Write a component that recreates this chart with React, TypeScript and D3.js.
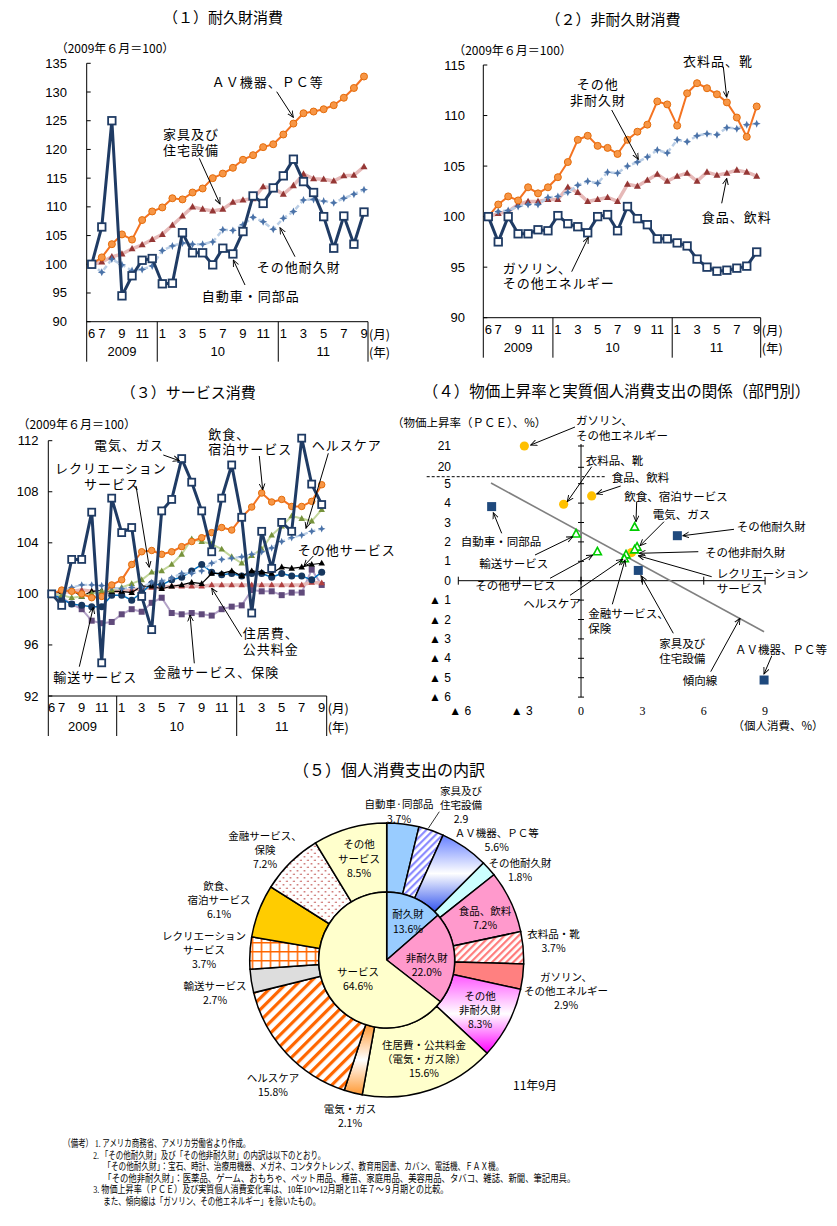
import React from 'react';
import * as d3 from 'd3';

// ---------------- shared time axis ----------------
const monthTickIdx = [0, 1, 3, 5, 7, 9, 11, 13, 15, 17, 19, 21, 23, 25, 27];
const monthTickLabels = ['6', '7', '9', '11', '1', '3', '5', '7', '9', '11', '1', '3', '5', '7', '9'];
const yearLabels = ['2009', '10', '11'];
const yearBreaks = [6.5, 18.5];

// ---------------- (1) durables ----------------
const avPc = [100, 101.2, 103.5, 105.2, 104.3, 107.7, 109.2, 109.9, 111.5, 111.3, 112.5, 113.2, 115.0, 115.8, 116.8, 118.2, 119.0, 120.4, 120.9, 122.6, 124.5, 126.3, 126.6, 127.0, 127.7, 129.0, 130.7, 132.7];
const furniture = [100, 100.4, 101.3, 101.8, 102.7, 103.4, 104.3, 105.2, 106.8, 108.4, 110.0, 109.6, 109.3, 109.6, 110.8, 111.2, 111.4, 113.5, 113.3, 112.2, 113.7, 115.7, 114.9, 114.8, 114.5, 115.4, 115.5, 117.0];
const otherDurables = [100, 98.6, 100.9, 99.9, 98.9, 99.1, 99.7, 102.4, 103.2, 103.7, 103.5, 103.5, 103.9, 106.0, 105.9, 106.9, 108.2, 107.4, 106.1, 108.0, 109.2, 111.2, 111.3, 111.0, 110.7, 111.5, 112.2, 113.0];
const autos = [100, 106.5, 125.0, 94.5, 98.0, 100.7, 101.0, 96.6, 96.7, 105.5, 102.0, 102.0, 99.9, 102.8, 101.8, 105.7, 111.9, 110.6, 113.3, 115.4, 118.3, 114.4, 112.5, 108.3, 102.8, 108.4, 103.5, 109.1];
const p1Ticks = [90, 95, 100, 105, 110, 115, 120, 125, 130, 135];

// ---------------- (2) non-durables ----------------
const clothing = [100, 101.2, 102.0, 101.6, 102.9, 102.3, 102.9, 103.9, 105.4, 107.6, 108.0, 107.0, 106.8, 106.2, 107.6, 108.4, 109.1, 111.4, 111.1, 109.0, 112.2, 113.2, 112.7, 112.1, 111.3, 109.8, 107.9, 110.9];
const otherNondurables = [100, 100.5, 100.6, 101.0, 101.2, 101.2, 101.9, 102.0, 102.4, 103.1, 103.5, 103.3, 104.4, 104.3, 105.0, 105.4, 105.9, 106.6, 106.3, 107.6, 107.4, 108.0, 108.2, 108.1, 108.8, 108.7, 109.1, 109.2];
const foodBev = [100, 100.3, 100.5, 101.2, 101.5, 101.5, 101.7, 101.7, 102.9, 102.4, 101.5, 101.7, 101.9, 101.5, 103.2, 103.0, 103.6, 104.2, 103.5, 104.0, 104.3, 103.5, 104.4, 104.1, 104.3, 104.6, 104.4, 104.0];
const gasoline = [100, 97.5, 100.0, 98.3, 98.3, 98.7, 98.6, 100.1, 99.3, 99.0, 98.4, 100.0, 100.2, 98.6, 101.0, 99.8, 99.2, 97.8, 97.8, 97.4, 97.1, 95.8, 95.0, 94.6, 94.7, 94.9, 95.1, 96.5];
const p2Ticks = [90, 95, 100, 105, 110, 115];

// ---------------- (3) services ----------------
const electricity = [100, 99.1, 102.7, 102.7, 106.4, 94.6, 107.5, 104.8, 105.2, 99.8, 97.2, 106.5, 107.4, 110.6, 108.75, 106.5, 103.3, 107.5, 110.1, 106.0, 98.5, 104.9, 102.0, 105.6, 104.9, 112.2, 108.6, 107.0];
const foodService = [100, 100.3, 100.2, 100.0, 99.7, 99.8, 100.7, 101.1, 102.3, 103.3, 103.4, 103.1, 103.3, 103.7, 104.1, 104.4, 104.8, 105.2, 105.0, 106.0, 106.8, 107.9, 107.2, 107.4, 106.85, 106.85, 107.25, 108.55];
const healthcare = [100, 100.2, 100.5, 100.7, 100.7, 100.65, 100.5, 100.4, 100.5, 100.5, 100.9, 101.0, 101.25, 101.6, 101.6, 101.8, 102.4, 102.7, 102.8, 102.9, 103.1, 103.3, 103.6, 104.1, 104.4, 104.6, 104.9, 105.1];
const recreation = [100, 99.9, 99.7, 99.8, 100.0, 100.2, 100.3, 100.5, 100.8, 101.1, 101.7, 101.8, 102.3, 103.1, 104.3, 104.1, 103.9, 103.5, 102.9, 102.4, 103.0, 103.5, 104.6, 105.3, 106.1, 105.9, 105.7, 106.6];
const otherServices = [100, 100.2, 100.3, 99.8, 100.2, 100.25, 100.2, 100.2, 100.1, 100.6, 100.6, 100.4, 100.6, 100.7, 100.9, 100.8, 101.6, 101.6, 101.8, 101.4, 101.8, 101.7, 101.6, 102.1, 102.0, 102.1, 102.3, 102.4];
const housing = [100, 100.1, 100.2, 100.3, 100.2, 100.1, 100.2, 100.2, 100.3, 100.4, 100.5, 100.5, 100.6, 100.6, 100.6, 100.6, 100.7, 100.7, 100.7, 100.7, 100.7, 100.7, 100.7, 100.7, 100.7, 100.7, 100.9, 100.85];
const transport = [100, 99.6, 99.2, 99.1, 99.0, 99.0, 99.9, 99.9, 99.5, 100.1, 100.8, 100.7, 101.1, 101.3, 101.8, 102.3, 101.7, 101.5, 101.6, 101.4, 101.6, 101.6, 101.3, 101.6, 101.4, 101.4, 101.1, 101.7];
const finance = [100, 99.7, 99.2, 98.8, 97.9, 97.7, 97.8, 98.4, 98.8, 98.6, 99.3, 99.7, 98.5, 98.4, 98.5, 98.4, 98.3, 98.8, 99.0, 99.1, 100.3, 100.2, 100.2, 99.9, 100.1, 100.1, 101.9, 100.7];
const p3Ticks = [92, 96, 100, 104, 108, 112];

// ---------------- (4) scatter ----------------
const scatterNames = ['ガソリン、その他エネルギー', '衣料品、靴', '食品、飲料', 'その他非耐久財', '飲食、宿泊サービス', '電気、ガス', 'レクリエーションサービス', 'ヘルスケア', '金融サービス、保険', '輸送サービス', 'その他サービス', '自動車・同部品', 'その他耐久財', '家具及び住宅設備', 'ＡＶ機器、ＰＣ等'];
const consumptionChg = [-2.77, -0.85, 0.52, 2.47, 2.62, 2.74, 2.62, 2.2, 2.12, -0.24, 0.8, -4.37, 4.71, 2.8, 8.95];
const pceChg = [21.0, 3.94, 4.37, 1.45, 2.75, 1.72, 1.58, 1.32, 1.12, 2.4, 1.48, 3.82, 2.32, 0.53, -5.12];
const sectorGroup = ['n', 'n', 'n', 'n', 's', 's', 's', 's', 's', 's', 's', 'd', 'd', 'd', 'd'];
const trendSlope = -0.618;
const trendIntercept = 2.9;
const trendRange = [-4.4, 8.95];
const p4YTicks = [21, 20, 5, 4, 3, 2, 1, 0, -1, -2, -3, -4, -5, -6];
const p4XTicks = [-6, -3, 0, 3, 6, 9];

// ---------------- (5) pie ----------------
const innerNames = ['耐久財', '非耐久財', 'サービス'];
const innerShares = [13.6, 22.0, 64.6];
const outerNames = ['自動車・同部品', '家具及び住宅設備', 'ＡＶ機器、ＰＣ等', 'その他耐久財', '食品、飲料', '衣料品・靴', 'ガソリン、その他エネルギー', 'その他非耐久財', '住居費・公共料金', '電気・ガス', 'ヘルスケア', '輸送サービス', 'レクリエーションサービス', '飲食、宿泊サービス', '金融サービス、保険', 'その他サービス'];
const outerShares = [3.7, 2.9, 5.6, 1.8, 7.2, 3.7, 2.9, 8.3, 15.6, 2.1, 15.8, 2.7, 3.7, 6.1, 7.2, 8.5];

const innerFills = ['#99ccff', '#ff99cc', '#ffffcc'];
const outerFills = ['#99ccff', 'url(#stBlue)', 'url(#gBlue)', '#ccffff', '#ff99cc', 'url(#stSalmon)', '#ff8080', 'url(#gMag)', '#ffffcc', 'url(#gOrange)', 'url(#stOrange)', '#dddddd', 'url(#grid)', '#ffcc00', 'url(#dots)', '#ffffcc'];

const NUM = "'Liberation Sans', Arial, sans-serif";
const SERIF = "'Liberation Serif', 'Noto Sans CJK JP', serif";

// ---------------- helpers ----------------
function Marker({ kind, cx, cy, size, fill, stroke, sw }: any) {
  if (kind === 'circle') return <circle cx={cx} cy={cy} r={size / 2} fill={fill} stroke={stroke} strokeWidth={sw} />;
  if (kind === 'square') return <rect x={cx - size / 2} y={cy - size / 2} width={size} height={size} fill={fill} stroke={stroke} strokeWidth={sw} />;
  if (kind === 'triangle') {
    const h = size * 0.9;
    return <path d={`M${cx},${cy - h * 0.6}L${cx + size / 2},${cy + h * 0.4}L${cx - size / 2},${cy + h * 0.4}Z`} fill={fill} stroke={stroke} strokeWidth={sw} />;
  }
  const r = size / 2, q = r * 0.3;
  return <path d={`M${cx},${cy - r}L${cx + q},${cy - q}L${cx + r},${cy}L${cx + q},${cy + q}L${cx},${cy + r}L${cx - q},${cy + q}L${cx - r},${cy}L${cx - q},${cy - q}Z`} fill={fill} stroke={stroke} strokeWidth={sw} />;
}

function T({ x, y, children, size = 13, anchor = 'start', ls = 0, family, weight }: any) {
  return (
    <text x={x} y={y} fontSize={size} textAnchor={anchor} dominantBaseline="central" letterSpacing={ls} fontFamily={family} fontWeight={weight}>
      {children}
    </text>
  );
}

function ML({ x, y, lines, lh = 15.5, size = 13, anchor = 'start', ls = 0, xs }: any) {
  return (
    <text y={y} fontSize={size} textAnchor={anchor} dominantBaseline="central" letterSpacing={ls}>
      {lines.map((s: string, i: number) => (
        <tspan key={i} x={xs ? xs[i] : x} dy={i === 0 ? 0 : lh} dominantBaseline="central">{s}</tspan>
      ))}
    </text>
  );
}

function Arrow({ a }: any) {
  return <line x1={a[0]} y1={a[1]} x2={a[2]} y2={a[3]} stroke="#000" strokeWidth={1} markerEnd="url(#arr)" />;
}

function LinePanel({ axisL, axisR, x0, x1, yDomain, yRange, yTicks, labelX, series }: any) {
  const x = d3.scaleLinear().domain([0, 27]).range([x0, x1]);
  const y = d3.scaleLinear().domain(yDomain).range(yRange);
  const bottom = y(yDomain[0]);
  const top = y(yDomain[1]);
  const line = d3.line<number>().x((_, i) => x(i)).y((d) => y(d));
  const bounds = [axisL, ...yearBreaks.map((b) => x(b)), axisR];
  const mY = bottom + 11.5;
  const yrY = bottom + 30;
  return (
    <g>
      <line x1={axisL} x2={axisL} y1={top} y2={bottom + 40} stroke="#000" />
      {yTicks.map((t: number) => (
        <g key={t}>
          <line x1={axisL} x2={axisL + 4} y1={y(t)} y2={y(t)} stroke="#000" />
          <T x={labelX} y={y(t)} anchor="end" size={13} family={NUM}>{t}</T>
        </g>
      ))}
      <line x1={axisL} x2={axisR} y1={bottom} y2={bottom} stroke="#000" />
      {bounds.slice(1).map((b, i) => (
        <line key={i} x1={b} x2={b} y1={bottom} y2={bottom + 40} stroke="#000" />
      ))}
      {monthTickIdx.map((m, i) => (
        <T key={i} x={x(m)} y={mY} anchor="middle" size={13} family={NUM}>{monthTickLabels[i]}</T>
      ))}
      {yearLabels.map((l, i) => (
        <T key={l} x={(bounds[i] + bounds[i + 1]) / 2} y={yrY} anchor="middle" size={13} family={NUM}>{l}</T>
      ))}
      <T x={axisR + 1} y={mY} size={12.5}>(月)</T>
      <T x={axisR + 1} y={yrY} size={12.5}>(年)</T>
      {series.map((s: any, k: number) => (
        <g key={k}>
          <path d={line(s.values) as string} fill="none" stroke={s.color} strokeWidth={s.width} strokeDasharray={s.dash} strokeLinejoin="round" />
          {s.values.map((v: number, i: number) => (
            <Marker key={i} kind={s.marker} cx={x(i)} cy={y(v)} size={s.mSize} fill={s.mFill} stroke={s.mStroke} sw={s.mSW} />
          ))}
        </g>
      ))}
    </g>
  );
}

const ORANGE = { color: '#f47321', width: 2, marker: 'circle', mSize: 7, mFill: '#f79646', mStroke: '#e46c0a', mSW: 1 };
const NAVY = { color: '#1f3b64', width: 3, marker: 'square', mSize: 7.5, mFill: '#fff', mStroke: '#1f3b64', mSW: 1.8 };
const PINKTRI = { color: '#e6b9b8', width: 3.5, marker: 'triangle', mSize: 7, mFill: '#953735', mStroke: 'none', mSW: 0 };
const BLUEDASH = { color: '#b9cde5', width: 2.5, dash: '5,3', marker: 'star', mSize: 8, mFill: '#4a72a8', mStroke: 'none', mSW: 0 };

const LS = 1;

function Panel1() {
  const series = [
    { values: furniture, ...PINKTRI },
    { values: otherDurables, ...BLUEDASH },
    { values: avPc, ...ORANGE },
    { values: autos, ...NAVY },
  ];
  return (
    <g>
      <T x={223} y={16} anchor="middle" size={15}>（１）耐久財消費</T>
      <T x={115} y={47} anchor="middle" size={12}>（2009年６月＝100）</T>
      <LinePanel axisL={86.7} axisR={368} x0={91.7} x1={364} yDomain={[90, 135]} yRange={[321.7, 63.3]} yTicks={p1Ticks} labelX={67} series={series} />
      <T x={211.7} y={81.7} ls={LS}>ＡＶ機器、ＰＣ等</T>
      <Arrow a={[276.7, 91.7, 293.3, 117.3]} />
      <ML x={163} y={133} lines={['家具及び', '住宅設備']} ls={LS} />
      <Arrow a={[199.3, 158.3, 220, 204]} />
      <T x={256.7} y={266.7} ls={LS}>その他耐久財</T>
      <Arrow a={[295, 256.7, 280, 227.7]} />
      <T x={201.7} y={295} ls={LS}>自動車・同部品</T>
      <Arrow a={[245, 285, 233.3, 260]} />
    </g>
  );
}

function Panel2() {
  const series = [
    { values: foodBev, ...PINKTRI },
    { values: otherNondurables, ...BLUEDASH },
    { values: clothing, ...ORANGE },
    { values: gasoline, ...NAVY },
  ];
  return (
    <g>
      <T x={613} y={18} anchor="middle" size={15}>（２）非耐久財消費</T>
      <T x={512.5} y={49} anchor="middle" size={12}>（2009年６月＝100）</T>
      <LinePanel axisL={483.3} axisR={760.7} x0={488.3} x1={756.7} yDomain={[90, 115]} yRange={[317.7, 65]} yTicks={p2Ticks} labelX={465} series={series} />
      <T x={683} y={60} ls={LS}>衣料品、靴</T>
      <Arrow a={[723.3, 66.7, 726.7, 97.3]} />
      <ML xs={[576.7, 570]} y={83} lines={['その他', '非耐久財']} ls={LS} lh={16} />
      <Arrow a={[611.7, 110, 638.3, 159.3]} />
      <T x={701.7} y={216.7} ls={LS}>食品、飲料</T>
      <Arrow a={[721.7, 203.3, 726.7, 178.3]} />
      <ML x={502.7} y={266.5} lines={['ガソリン、', 'その他エネルギー']} ls={LS} />
      <Arrow a={[571.7, 271.7, 588.3, 237.3]} />
    </g>
  );
}

function Panel3() {
  const series = [
    { values: finance, color: '#b3a2c7', width: 2, marker: 'square', mSize: 6, mFill: '#604a7b', mStroke: 'none', mSW: 0 },
    { values: housing, color: '#e6b9b8', width: 3.5, marker: 'triangle', mSize: 6.5, mFill: '#b04040', mStroke: 'none', mSW: 0 },
    { values: transport, color: '#0070c0', width: 1.5, marker: 'circle', mSize: 7, mFill: '#17375e', mStroke: 'none', mSW: 0 },
    { values: otherServices, color: '#000', width: 1.2, marker: 'triangle', mSize: 6.5, mFill: '#000', mStroke: 'none', mSW: 0 },
    { values: recreation, color: '#c3d69b', width: 2, marker: 'triangle', mSize: 6.5, mFill: '#77933c', mStroke: 'none', mSW: 0 },
    { values: healthcare, color: '#b9cde5', width: 2.2, dash: '5,3', marker: 'star', mSize: 7.5, mFill: '#4a72a8', mStroke: 'none', mSW: 0 },
    { values: foodService, color: '#f47321', width: 2, marker: 'circle', mSize: 6.5, mFill: '#f79646', mStroke: '#e46c0a', mSW: 1 },
    { values: electricity, ...NAVY, mSize: 7 },
  ];
  return (
    <g>
      <T x={188.3} y={391.7} anchor="middle" size={15}>（３）サービス消費</T>
      <T x={76.7} y={423.3} anchor="middle" size={12}>（2009年６月＝100）</T>
      <LinePanel axisL={48.3} axisR={326.7} x0={51.7} x1={321.7} yDomain={[92, 112]} yRange={[696, 440.7]} yTicks={p3Ticks} labelX={38.5} series={series} />
      <T x={94} y={444} ls={LS}>電気、ガス</T>
      <Arrow a={[163.3, 455, 179.3, 460.7]} />
      <ML xs={[55, 84]} y={467} lines={['レクリエーション', 'サービス']} ls={LS} lh={16} />
      <Arrow a={[136, 486, 149.3, 567.3]} />
      <ML x={208.3} y={432.5} lines={['飲食、', '宿泊サービス']} ls={LS} />
      <Arrow a={[259.3, 456, 262.7, 490]} />
      <T x={311.7} y={444} ls={LS}>ヘルスケア</T>
      <Arrow a={[328.3, 453.3, 306, 528.3]} />
      <T x={297.7} y={549} ls={LS}>その他サービス</T>
      <Arrow a={[313.3, 556, 304, 566]} />
      <ML x={242.7} y={632} lines={['住居費、', '公共料金']} ls={LS} lh={15.5} />
      <Arrow a={[241.7, 636.7, 211.7, 588.3]} />
      <T x={153.3} y={671.7} ls={LS}>金融サービス、保険</T>
      <Arrow a={[194.3, 663.3, 190, 615]} />
      <T x={53.3} y={676.7} ls={LS}>輸送サービス</T>
      <Arrow a={[79.3, 666.7, 93.3, 607.3]} />
    </g>
  );
}

function Panel4() {
  const sx = d3.scaleLinear().domain([-6, 9]).range([458.3, 765.1]);
  const sy = d3.scaleLinear().domain([-6, 5, 20, 21]).range([697.1, 483.7, 467.3, 446]);
  const fmt = (v: number) => (v < 0 ? `▲ ${-v}` : String(v));
  const fs = 11.5;
  return (
    <g>
      <T x={616.5} y={390} anchor="middle" size={15.5}>（４）物価上昇率と実質個人消費支出の関係（部門別）</T>
      <T x={392} y={422} size={11.5}>（物価上昇率（ＰＣＥ）、%）</T>
      <line x1={sx(0)} x2={sx(0)} y1={444} y2={sy(-6)} stroke="#000" />
      {p4YTicks.map((t) => (
        <g key={t}>
          <line x1={sx(0) - 3} x2={sx(0) + 3} y1={sy(t)} y2={sy(t)} stroke="#000" />
          <T x={451} y={sy(t)} anchor="end" size={12} family={NUM}>{fmt(t)}</T>
        </g>
      ))}
      <line x1={sx(-6)} x2={sx(9)} y1={sy(0)} y2={sy(0)} stroke="#000" />
      {p4XTicks.map((t) => (
        <g key={t}>
          <line x1={sx(t)} x2={sx(t)} y1={sy(0) - 4} y2={sy(0) + 4} stroke="#000" />
          <T x={sx(t) + (t < 0 ? 2 : 0)} y={710.7} anchor="middle" size={12} family={t < 0 ? NUM : SERIF}>{fmt(t)}</T>
        </g>
      ))}
      <line x1={426.7} x2={605} y1={476.7} y2={476.7} stroke="#000" strokeDasharray="3,2" />
      <T x={778} y={725} anchor="middle" size={11.5}>（個人消費、%）</T>
      <line x1={sx(trendRange[0])} y1={sy(trendIntercept + trendSlope * trendRange[0])} x2={sx(trendRange[1])} y2={sy(trendIntercept + trendSlope * trendRange[1])} stroke="#808080" strokeWidth={1.6} />
      {consumptionChg.map((cx, i) => {
        const g = sectorGroup[i];
        const px = sx(cx), py = sy(pceChg[i]);
        if (g === 'n') return <circle key={i} cx={px} cy={py} r={4.6} fill="#ffc000"><title>{scatterNames[i]}</title></circle>;
        if (g === 'd') return <rect key={i} x={px - 4.5} y={py - 4.5} width={9} height={9} fill="#1f497d"><title>{scatterNames[i]}</title></rect>;
        return <path key={i} d={`M${px},${py - 4.6}L${px + 4},${py + 2.8}L${px - 4},${py + 2.8}Z`} fill="#fff" stroke="#00cc00" strokeWidth={1.6}><title>{scatterNames[i]}</title></path>;
      })}
      <ML x={576} y={420} lines={['ガソリン、', 'その他エネルギー']} size={fs} lh={15} />
      <Arrow a={[575, 427, 530.7, 445]} />
      <T x={585.7} y={460} size={fs}>衣料品、靴</T>
      <Arrow a={[591.7, 466.7, 567.3, 501.7]} />
      <T x={611.7} y={477.3} size={fs}>食品、飲料</T>
      <Arrow a={[620.7, 486, 596.7, 494]} />
      <T x={624.3} y={495.7} size={fs}>飲食、宿泊サービス</T>
      <Arrow a={[636.7, 501.7, 636, 521.7]} />
      <T x={652.7} y={514} size={fs}>電気、ガス</T>
      <Arrow a={[664, 521.7, 640, 545.7]} />
      <T x={736.7} y={526} size={fs}>その他耐久財</T>
      <Arrow a={[734, 529.3, 682.7, 535.7]} />
      <T x={705} y={551.7} size={fs}>その他非耐久財</T>
      <Arrow a={[698.3, 551.7, 639.3, 553.3]} />
      <ML x={716.7} y={573.3} lines={['レクリエーション', 'サービス']} size={fs} lh={15} />
      <Arrow a={[711.7, 576.7, 638.3, 555.7]} />
      <T x={460.7} y={540.7} size={fs}>自動車・同部品</T>
      <Arrow a={[501.7, 533.3, 493.3, 512.7]} />
      <T x={479.3} y={563.3} size={fs}>輸送サービス</T>
      <Arrow a={[535, 555, 572.7, 536.7]} />
      <T x={475.3} y={585} size={fs}>その他サービス</T>
      <Arrow a={[550, 578.3, 592.7, 555]} />
      <T x={523.3} y={602.7} size={fs}>ヘルスケア</T>
      <Arrow a={[570, 595.3, 622.7, 559.3]} />
      <ML x={588.3} y={613.3} lines={['金融サービス、', '保険']} size={fs} lh={15} />
      <Arrow a={[612.3, 604.3, 625, 560]} />
      <ML x={659.3} y={643.3} lines={['家具及び', '住宅設備']} size={fs} lh={15} />
      <Arrow a={[673.3, 633.3, 641, 575.7]} />
      <T x={682.7} y={680} size={fs}>傾向線</T>
      <Arrow a={[710.7, 671.7, 740, 618.3]} />
      <T x={735} y={649.3} size={fs}>ＡＶ機器、ＰＣ等</T>
      <Arrow a={[771.7, 656, 764, 674]} />
    </g>
  );
}

function Panel5() {
  const cx = 386.7, cy = 960, rIn = 68, rOut = 137;
  const outer = d3.pie<number>().sort(null).value((d) => d)(outerShares);
  const inner = d3.pie<number>().sort(null).value((d) => d)(innerShares);
  const arcO = d3.arc<any>().innerRadius(rIn).outerRadius(rOut);
  const arcI = d3.arc<any>().innerRadius(0).outerRadius(rIn);
  const fs = 10.5;
  const L = (x: number, y: number, lines: string[]) => (
    <ML x={x} y={y} lines={lines} size={fs} lh={14.2} anchor="middle" />
  );
  return (
    <g>
      <T x={389} y={769.3} anchor="middle" size={16}>（５）個人消費支出の内訳</T>
      <g transform={`translate(${cx},${cy})`}>
        {outer.map((d, i) => (
          <path key={i} d={arcO(d) as string} fill={outerFills[i]} stroke="#000" strokeWidth={1.5}>
            <title>{outerNames[i]}</title>
          </path>
        ))}
        {inner.map((d, i) => (
          <path key={i} d={arcI(d) as string} fill={innerFills[i]} stroke="#000" strokeWidth={1.5}>
            <title>{innerNames[i]}</title>
          </path>
        ))}
      </g>
      {L(399, 803.3, ['自動車·同部品', '3.7%'])}
      {L(461, 790, ['家具及び', '住宅設備', '2.9'])}
      <line x1={439.3} y1={811.7} x2={428.3} y2={828.3} stroke="#000" strokeWidth={0.8} />
      {L(496.7, 831.7, ['ＡＶ機器、ＰＣ等', '5.6%'])}
      {L(520, 861.7, ['その他耐久財', '1.8%'])}
      {L(485, 910, ['食品、飲料', '7.2%'])}
      {L(553.5, 932.7, ['衣料品・靴', '3.7%'])}
      {L(566, 976, ['ガソリン、', 'その他エネルギー', '2.9%'])}
      {L(480, 995, ['その他', '非耐久財', '8.3%'])}
      {L(408, 913.3, ['耐久財', '13.6%'])}
      {L(426.7, 956.7, ['非耐久財', '22.0%'])}
      {L(358, 971, ['サービス', '64.6%'])}
      {L(424, 1044, ['住居費・公共料金', '（電気・ガス除）', '15.6%'])}
      <T x={535} y={1084} anchor="middle" size={12}>11年9月</T>
      {L(350, 1107.7, ['電気・ガス', '2.1%'])}
      {L(273, 1076.7, ['ヘルスケア', '15.8%'])}
      {L(215, 985, ['輸送サービス', '2.7%'])}
      {L(204, 935, ['レクリエーション', 'サービス', '3.7%'])}
      {L(219, 885, ['飲食、', '宿泊サービス', '6.1%'])}
      {L(265, 835, ['金融サービス、', '保険', '7.2%'])}
      {L(359, 843.3, ['その他', 'サービス', '8.5%'])}
    </g>
  );
}

const noteLines = [
  { x: 63.3, y: 1143.3, w: 187, s: '（備考） 1. アメリカ商務省、アメリカ労働省より作成。' },
  { x: 93.3, y: 1155, w: 232, s: '2. 「その他耐久財」及び「その他非耐久財」の内訳は以下のとおり。' },
  { x: 103.3, y: 1166.5, w: 400, s: '「その他耐久財」：宝石、時計、治療用機器、メガネ、コンタクトレンズ、教育用図書、カバン、電話機、ＦＡＸ機。' },
  { x: 103.3, y: 1178, w: 472, s: '「その他非耐久財」：医薬品、ゲーム、おもちゃ、ペット用品、種苗、家庭用品、美容用品、タバコ、雑誌、新聞、筆記用具。' },
  { x: 93.3, y: 1189.5, w: 355, s: '3. 物価上昇率（ＰＣＥ）及び実質個人消費変化率は、10年10～12月期と11年７～９月期との比較。' },
  { x: 103.3, y: 1201, w: 217, s: 'また、傾向線は「ガソリン、その他エネルギー」を除いたもの。' },
];

function Notes() {
  return (
    <g fontFamily={SERIF} fontSize={10}>
      {noteLines.map((n, i) => (
        <text key={i} x={n.x} y={n.y} dominantBaseline="central" textLength={n.w} lengthAdjust="spacingAndGlyphs">{n.s}</text>
      ))}
    </g>
  );
}

function Defs() {
  return (
    <defs>
      <marker id="arr" viewBox="0 0 10 10" refX="9" refY="5" markerWidth="7" markerHeight="7" orient="auto" markerUnits="userSpaceOnUse">
        <path d="M0,1 L9,5 L0,9" fill="none" stroke="#000" strokeWidth="1.3" />
      </marker>
      <pattern id="stBlue" patternUnits="userSpaceOnUse" width="5" height="5" patternTransform="rotate(45)">
        <rect width="5" height="5" fill="#fff" />
        <rect width="2.2" height="5" fill="#8c8cff" />
      </pattern>
      <pattern id="stSalmon" patternUnits="userSpaceOnUse" width="5" height="5" patternTransform="rotate(45)">
        <rect width="5" height="5" fill="#fff" />
        <rect width="2.2" height="5" fill="#ff7c7c" />
      </pattern>
      <pattern id="stOrange" patternUnits="userSpaceOnUse" width="8" height="8" patternTransform="rotate(45)">
        <rect width="8" height="8" fill="#fff" />
        <rect width="3.2" height="8" fill="#ff6600" />
      </pattern>
      <pattern id="grid" patternUnits="userSpaceOnUse" width="9" height="9">
        <rect width="9" height="9" fill="#fff" />
        <path d="M0,0.75H9M0.75,0V9" stroke="#ff6600" strokeWidth="1.5" />
      </pattern>
      <pattern id="dots" patternUnits="userSpaceOnUse" width="7" height="7">
        <rect width="7" height="7" fill="#fff" />
        <circle cx="1.75" cy="1.75" r="0.85" fill="#c0504d" />
        <circle cx="5.25" cy="5.25" r="0.85" fill="#c0504d" />
      </pattern>
      <linearGradient id="gBlue" x1="0" y1="0" x2="0" y2="1">
        <stop offset="0" stopColor="#6680ff" />
        <stop offset="0.5" stopColor="#ffffff" />
        <stop offset="1" stopColor="#3355ee" />
      </linearGradient>
      <linearGradient id="gMag" x1="0" y1="0" x2="0" y2="1">
        <stop offset="0" stopColor="#ff55ff" />
        <stop offset="0.5" stopColor="#ffffff" />
        <stop offset="1" stopColor="#ff00ff" />
      </linearGradient>
      <linearGradient id="gOrange" x1="0" y1="0" x2="0" y2="1">
        <stop offset="0" stopColor="#ff9933" />
        <stop offset="0.5" stopColor="#ffffff" />
        <stop offset="1" stopColor="#ff9933" />
      </linearGradient>
    </defs>
  );
}

export default function App() {
  return (
    <svg width={837} height={1226} style={{ position: 'absolute', left: 0, top: 0 }} fontFamily="'Noto Sans CJK JP', sans-serif">
      <Defs />
      <rect width={837} height={1226} fill="#fff" />
      <Panel1 />
      <Panel2 />
      <Panel3 />
      <Panel4 />
      <Panel5 />
      <Notes />
    </svg>
  );
}
